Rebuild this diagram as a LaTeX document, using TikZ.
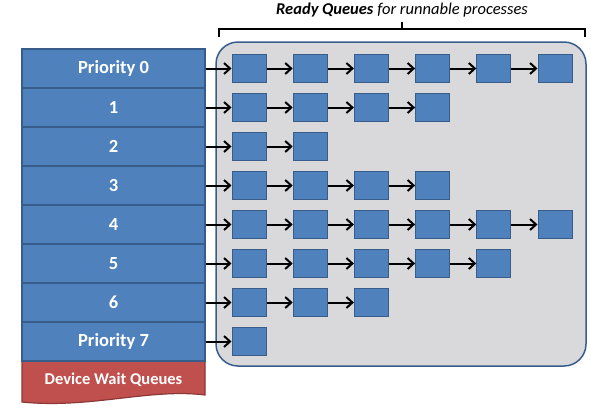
\documentclass[tikz,border=0pt]{standalone}
\usepackage{fontspec}
\setmainfont{Carlito}
\usetikzlibrary{arrows.meta}

\definecolor{prioblue}{HTML}{4F81BD}
\definecolor{prioedge}{HTML}{385D8A}
\definecolor{waitred}{HTML}{C0504D}
\definecolor{waitedge}{HTML}{8C3836}
\definecolor{queuegray}{HTML}{D9D9DB}

\tikzset{
  prio/.style={draw=prioedge, fill=prioblue, line width=1.2pt, minimum width=183pt, minimum height=39pt, text=white, font=\bfseries\fontsize{18.5}{22}\selectfont},
  proc/.style={draw=prioedge, fill=prioblue, line width=1pt, minimum width=34pt, minimum height=28pt},
  link/.style={-{Straight Barb[length=6pt, width=11pt]}, line width=2pt},
}

\begin{document}
\begin{tikzpicture}[x=1pt, y=-1pt]
    \useasboundingbox (0,0) rectangle (591,407);

    % Ready queue area
    \draw[prioedge, fill=queuegray, line width=1.5pt, rounded corners=22pt] (216,42) rectangle (586,366);
    \draw[line width=1.8pt] (219,37) -- (219,29) -- (585,29) -- (585,37);
    \draw[line width=1.8pt] (402,29) -- (402,22);
    \node[font=\itshape\fontsize{16.5}{19}\selectfont] (title) at (402,10) {\textbf{Ready Queues} for runnable processes};

    % Device wait queues
    \draw[waitedge, fill=waitred, line width=1.2pt] (22,361) -- (205,361) -- (205,395) .. controls (150,388) and (90,409) .. (22,402) -- cycle;
    \node[text=white, font=\bfseries\fontsize{16.5}{19}\selectfont] (device) at (113.5,380) {Device Wait Queues};

    % Priority levels
    \foreach \i/\lbl in {0/Priority 0, 1/1, 2/2, 3/3, 4/4, 5/5, 6/6, 7/Priority 7}
        \node[prio, alias=q\i-0] (p\i) at (113.5, {68.5+39*\i}) {\raisebox{-1pt}{\lbl}};

    % Process queues
    \foreach \i/\cnt in {0/6, 1/4, 2/2, 3/4, 4/6, 5/5, 6/3, 7/1} {
        \foreach \j [remember=\j as \prev (initially 0)] in {1,...,\cnt} {
            \node[proc] (q\i-\j) at ({249+61.2*(\j-1)}, {68.5+39*\i}) {};
            \draw[link] (q\i-\prev) -- (q\i-\j);
        }
    }
\end{tikzpicture}
\end{document}
